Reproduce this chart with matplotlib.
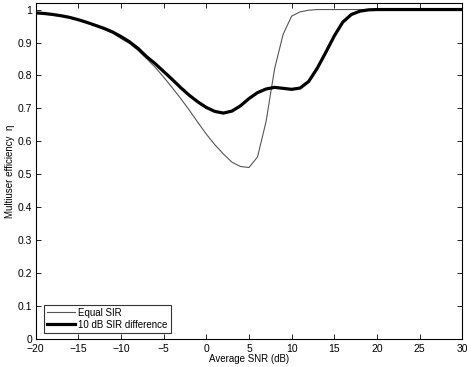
import matplotlib
matplotlib.use('Agg')
import matplotlib.pyplot as plt
import numpy as np

plt.rcParams['font.family'] = ['Liberation Sans', 'DejaVu Sans']
plt.rcParams['axes.unicode_minus'] = True

# average SNR in dB, 1 dB steps
snr = np.arange(-20, 31)

equal_sir = [0.990, 0.988, 0.985, 0.981, 0.976, 0.969, 0.960, 0.951, 0.940, 0.929,
             0.912, 0.897, 0.876, 0.851, 0.825, 0.795, 0.763, 0.730, 0.695, 0.658,
             0.622, 0.590, 0.562, 0.537, 0.524, 0.521, 0.553, 0.660, 0.820, 0.925,
             0.980, 0.993, 0.998, 1.000, 1.000, 1.000, 1.000, 1.000, 1.000, 1.000,
             1.000, 1.000, 1.000, 1.000, 1.000, 1.000, 1.000, 1.000, 1.000, 1.000,
             1.000]

sir_10db = [0.990, 0.988, 0.985, 0.981, 0.976, 0.969, 0.961, 0.952, 0.943, 0.932,
            0.918, 0.902, 0.882, 0.857, 0.836, 0.812, 0.788, 0.763, 0.740, 0.720,
            0.703, 0.691, 0.686, 0.692, 0.708, 0.730, 0.748, 0.759, 0.764, 0.761,
            0.758, 0.762, 0.782, 0.822, 0.870, 0.920, 0.962, 0.985, 0.995, 0.999,
            1.000, 1.000, 1.000, 1.000, 1.000, 1.000, 1.000, 1.000, 1.000, 1.000,
            1.000]

xticks = np.arange(-20, 31, 5)
yticks = np.round(np.arange(0, 1.01, 0.1), 1)
ytick_labels = ['0', '0.1', '0.2', '0.3', '0.4', '0.5', '0.6', '0.7', '0.8', '0.9', '1']

fig = plt.figure(figsize=(4.71, 3.67), dpi=100)
ax = fig.add_axes([0.0758, 0.0755, 0.9057, 0.9165])

ax.plot(snr, equal_sir, color='#555555', lw=0.8, label='Equal SIR')
ax.plot(snr, sir_10db, color='black', lw=2.3, label='10 dB SIR difference')

ax.set_xlim(-20, 30)
ax.set_ylim(0, 1.02)
ax.set_xticks(xticks)
ax.set_yticks(yticks)
ax.set_yticklabels(ytick_labels)
ax.tick_params(direction='in', length=3.5, width=0.6, top=True, right=True,
               labelsize=7.5)
ax.tick_params(axis='x', pad=3.5)
ax.tick_params(axis='y', pad=2.5)
for s in ax.spines.values():
    s.set_linewidth(0.8)

ax.set_xlabel('Average SNR (dB)', fontsize=7, labelpad=0)
ax.set_ylabel('Multiuser efficiency  η', fontsize=7, labelpad=2)

leg = ax.legend(loc='lower left', bbox_to_anchor=(0.02, 0.02), borderaxespad=0,
                fontsize=7, frameon=True, fancybox=False, handlelength=2.9,
                handletextpad=0.3, borderpad=0.3, labelspacing=0.2)
leg.get_frame().set_edgecolor('black')
leg.get_frame().set_linewidth(0.8)

fig.savefig('out.png', dpi=100)
